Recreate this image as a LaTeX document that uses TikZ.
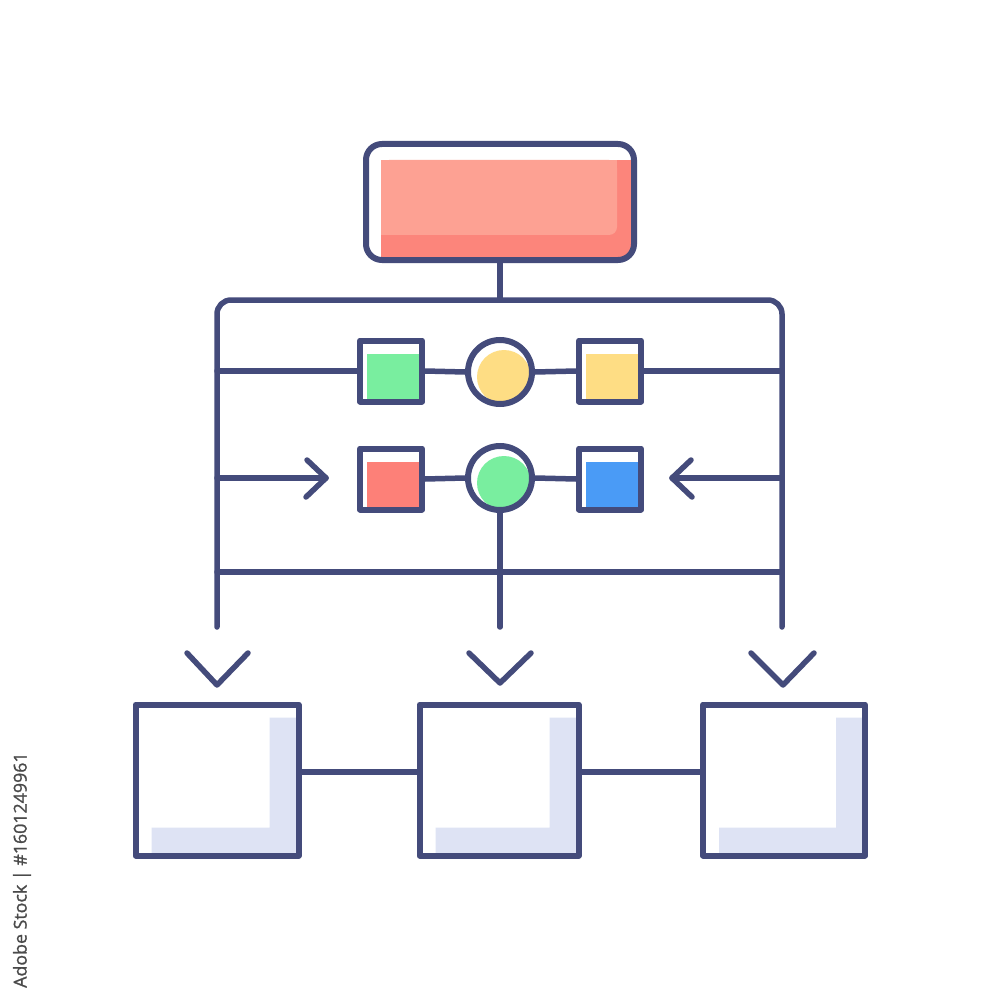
\documentclass[tikz,border=0pt]{standalone}
\usepackage{fontspec}
\newfontfamily\wmfont{Open Sans}[FakeBold=1.2]
\definecolor{navy}{HTML}{444B7B}
\definecolor{salL}{HTML}{FDA193}
\definecolor{salD}{HTML}{FC857B}
\definecolor{gfill}{HTML}{79EE9F}
\definecolor{yfill}{HTML}{FEDD84}
\definecolor{rfill}{HTML}{FD8078}
\definecolor{bfill}{HTML}{4A9BF6}
\definecolor{lav}{HTML}{DEE3F4}
\definecolor{wmgray}{HTML}{4A4A4A}
\tikzset{
  ln/.style={draw=navy, line width=5.5pt, line cap=round, line join=round},
  sq/.style={draw=navy, line width=6pt, fill=white, minimum width=62pt, minimum height=61pt, inner sep=0pt, line join=round},
  sqfill/.style={path picture={\fill[#1, sharp corners] ([shift={(7pt,0pt)}]path picture bounding box.south west) rectangle ([shift={(0pt,-13pt)}]path picture bounding box.north east);}},
  circ/.style={circle, draw=navy, line width=6pt, fill=white, minimum size=64pt, inner sep=0pt},
  cfill/.style={path picture={\fill[#1] ([shift={(4pt,-5pt)}]path picture bounding box.center) circle (27pt);}},
  bx/.style={draw=navy, line width=6pt, fill=white, minimum height=151pt, inner sep=0pt, line join=round},
  lfill/.style={path picture={\fill[lav, sharp corners]
      ([shift={(-29pt,-13pt)}]path picture bounding box.north east) --
      ([shift={(0pt,-13pt)}]path picture bounding box.north east) --
      (path picture bounding box.south east) --
      ([shift={(16pt,0pt)}]path picture bounding box.south west) --
      ([shift={(16pt,28pt)}]path picture bounding box.south west) --
      ([shift={(-29pt,28pt)}]path picture bounding box.south east) -- cycle;}},
  chev/.style={ln}
}
\begin{document}
\begin{tikzpicture}[x=1pt,y=-1pt]
\useasboundingbox[fill=white] (0,0) rectangle (1000,1000);

% top box
\node[draw=navy, line width=6pt, rounded corners=16pt, minimum width=268pt, minimum height=116pt, inner sep=0pt, fill=white,
  path picture={
    \fill[salD, sharp corners] ([shift={(15pt,0pt)}]path picture bounding box.south west) rectangle ([shift={(0pt,-16pt)}]path picture bounding box.north east);
    \fill[salL, rounded corners=8pt] ([shift={(15pt,25pt)}]path picture bounding box.south west) rectangle ([shift={(-17pt,-16pt)}]path picture bounding box.north east);
    \fill[salL, sharp corners] ([shift={(15pt,35pt)}]path picture bounding box.south west) rectangle ([shift={(-17pt,-16pt)}]path picture bounding box.north east);
    \fill[salL, sharp corners] ([shift={(15pt,25pt)}]path picture bounding box.south west) rectangle ([shift={(-27pt,-16pt)}]path picture bounding box.north east);
  }] (top) at (500,202) {};

% bus frame
\coordinate (busL) at (217,627);
\coordinate (busR) at (782,627);
\coordinate (busT) at (500,300);
\draw[ln, rounded corners=14pt] (busL) -- (217,300) -- (782,300) -- (busR);
\draw[ln] (top.south) -- (busT);

% row 1
\coordinate (r1L) at (217,371);
\coordinate (r1R) at (782,371);
\node[sq, sqfill=gfill] (gsq) at (391,371) {};
\node[circ, cfill=yfill] (yc) at (500,372) {};
\node[sq, sqfill=yfill] (ysq) at (610,371) {};
\draw[ln] (r1L) -- (gsq.west);
\draw[ln] (gsq.east) -- (yc.west);
\draw[ln] (yc.east) -- (ysq.west);
\draw[ln] (ysq.east) -- (r1R);

% row 2
\coordinate (r2L) at (217,478);
\coordinate (a1) at (326,478);
\coordinate (r2R) at (782,478);
\coordinate (a2) at (672,478);
\node[sq, sqfill=rfill] (rsq) at (391,479) {};
\node[circ, cfill=gfill] (gc) at (500,478) {};
\node[sq, sqfill=bfill] (bsq) at (610,479) {};
\draw[ln] (r2L) -- (a1);
\draw[chev] ([shift={(-19pt,18pt)}]a1) -- (a1) -- ([shift={(-20pt,-19pt)}]a1);
\draw[ln] (r2R) -- (a2);
\draw[chev] ([shift={(19pt,18pt)}]a2) -- (a2) -- ([shift={(20pt,-19pt)}]a2);
\draw[ln] (rsq.east) -- (gc.west);
\draw[ln] (gc.east) -- (bsq.west);
\coordinate (vM) at (500,627);
\draw[ln] (gc.south) -- (vM);

% row 3 line
\coordinate (r3L) at (217,572);
\coordinate (r3R) at (782,572);
\draw[ln] (r3L) -- (r3R);

% down chevrons
\coordinate (c1) at (217,685);
\coordinate (c2) at (500,683);
\coordinate (c3) at (783,685);
\draw[chev] ([shift={(-30pt,32pt)}]c1) -- (c1) -- ([shift={(31pt,32pt)}]c1);
\draw[chev] ([shift={(-31pt,30pt)}]c2) -- (c2) -- ([shift={(31pt,30pt)}]c2);
\draw[chev] ([shift={(-32pt,32pt)}]c3) -- (c3) -- ([shift={(31pt,32pt)}]c3);

% bottom boxes
\node[bx, minimum width=163pt, lfill] (b1) at (217,780) {};
\node[bx, minimum width=159pt, lfill] (b2) at (499,780) {};
\node[bx, minimum width=162pt, lfill] (b3) at (784,780) {};
\draw[ln] ([yshift=8pt]b1.east) -- ([yshift=8pt]b2.west);
\draw[ln] ([yshift=8pt]b2.east) -- ([yshift=8pt]b3.west);

% vertical watermark
\node[rotate=90, anchor=west, inner sep=0pt, text=wmgray, font=\wmfont\fontsize{17.8}{18}\selectfont] (wm) at (22,988) {Adobe Stock | \#1601249961};
\end{tikzpicture}
\end{document}
